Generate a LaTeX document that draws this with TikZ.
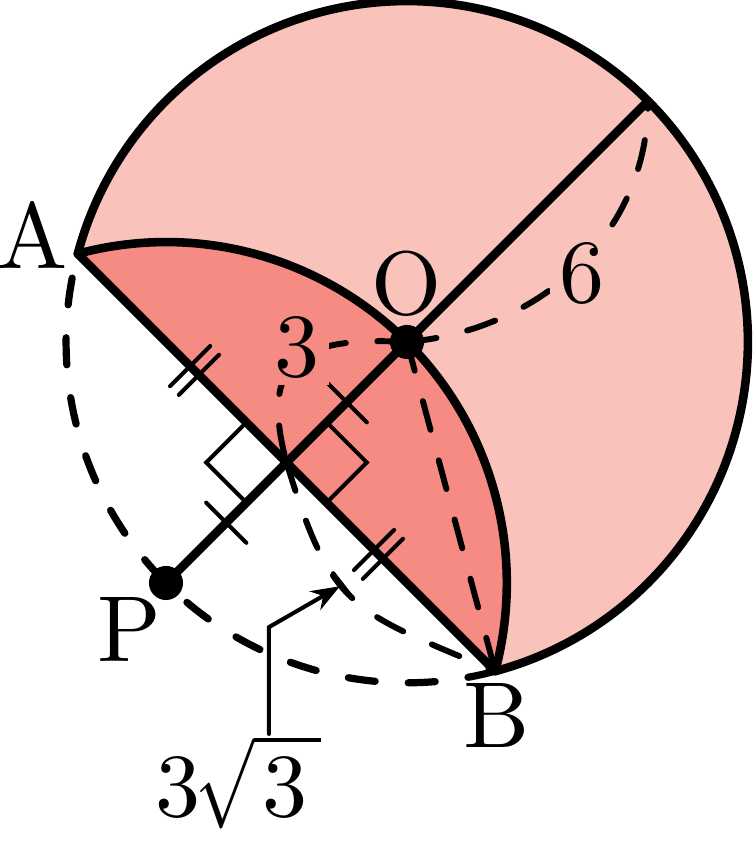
\documentclass[tikz,border=0pt]{standalone}
\usepackage{amsmath}
\usepackage{graphicx}
\usetikzlibrary{arrows.meta}
\definecolor{lightsector}{HTML}{F9C3BC}
\definecolor{darksector}{HTML}{F68B84}
\newcommand{\narrowroot}[1]{\mkern-1mu\scalebox{0.78}[1]{$\sqrt{\scalebox{1.282}[1]{$\kern0.9pt#1\kern1.5pt$}}$}}
\tikzset{
    edge/.style={line width=0.95pt, line cap=round, line join=round},
    guide/.style={line width=0.66pt, line cap=round, dash pattern=on 3.3pt off 3.5pt},
    bigguide/.style={line width=0.8pt, line cap=round, dash pattern=on 3pt off 3.67pt, dash phase=3.9pt},
    tick/.style={line width=0.45pt, line cap=round},
    lbl/.style={inner sep=1pt},
    ptlbl/.style={inner sep=1pt, scale=1.04}
}
\begin{document}
\begin{tikzpicture}[scale=0.2216]
    \useasboundingbox (-7.165,6.02) rectangle (6.074,-8.785);

    % The points, all on the radius 6 circle or halfway
    \coordinate (O) at (0,0);
    \coordinate (A) at (165:6);
    \coordinate (B) at (285:6);
    \coordinate (C) at (45:6);
    \coordinate (P) at (225:6);
    \coordinate (M) at (225:3);
    \coordinate (elbow) at (-2.43,-5.02);
    \coordinate (tip) at (-1.18,-4.30);
    \coordinate (tickA) at (-1.30,-4.07);
    \coordinate (tickB) at (-0.95,-4.52);

    % The two shaded regions
    \fill[lightsector] (A) arc[start angle=165, end angle=-75, radius=6]
        arc[start angle=-15, end angle=105, radius=6] -- cycle;
    \fill[darksector] (A) arc[start angle=105, end angle=-15, radius=6] -- cycle;

    % Dashed arcs and radii
    \draw[bigguide] (A) arc[start angle=165, end angle=285, radius=6];
    \draw[guide] (O) to[out=5, in=-90] (C);
    \draw[guide] (O) to[out=177, in=105, looseness=1.6] (M);
    \draw[guide] (M) to[out=-73, in=157, looseness=1.35] (B);
    \draw[guide] (O) -- (B);

    % Solid outline
    \draw[edge] (A) arc[start angle=165, end angle=-75, radius=6];
    \draw[edge] (A) arc[start angle=105, end angle=-15, radius=6];
    \draw[edge] (A) -- (B);
    \draw[edge] (P) -- (C);

    % Equal marks and right angles, along and across PC
    \begin{scope}[rotate=45]
        \draw[tick] (-3.5,2.18) -- (-2.5,2.18);
        \draw[tick] (-3.5,2.40) -- (-2.5,2.40);
        \draw[tick] (-3.5,-2.18) -- (-2.5,-2.18);
        \draw[tick] (-3.5,-2.40) -- (-2.5,-2.40);
        \draw[tick] (-1.5,-0.5) -- (-1.5,0.5);
        \draw[tick] (-4.5,-0.5) -- (-4.5,0.5);
        \draw[tick] (-3,1) -- (-4,1) -- (-4,0);
        \draw[tick] (-2,0) -- (-2,-1) -- (-3,-1);
    \end{scope}
    \draw[tick] (tickA) -- (tickB);

    % Dots
    \fill (O) circle (0.3);
    \fill (P) circle (0.3);

    % Labels
    \node[ptlbl] (labA) at (-6.585,1.88) {A};
    \node[ptlbl] (labB) at (1.585,-6.576) {B};
    \node[lbl] (labO) at (0,1.02) {O};
    \node[ptlbl] (labP) at (-4.88,-5.07) {P};
    \node[lbl, fill=lightsector] (labsix) at (3.08,1.21) {$6$};
    \node[lbl, fill=darksector] (labthree) at (-1.93,-0.09) {$3$};
    \node[lbl] (labroot) at (-2.97,-7.74) {$3\narrowroot{3}$};

    \draw[tick, shorten <=-1.1pt, -{Stealth[length=3.2pt, width=2.4pt]}] (labroot.north -| elbow) -- (elbow) -- (tip);
\end{tikzpicture}
\end{document}
